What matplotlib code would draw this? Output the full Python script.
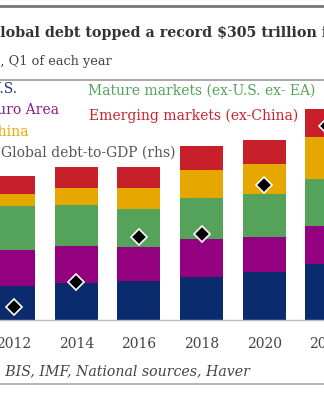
import matplotlib
matplotlib.use("Agg")
import matplotlib.pyplot as plt
from matplotlib.lines import Line2D
from matplotlib.font_manager import FontProperties
from matplotlib.textpath import TextPath

years = ["2012", "2014", "2016", "2018", "2020", "2022"]
us = [49.7, 53.1, 56.9, 61.8, 69.9, 81.1]
euro_area = [51.7, 54.4, 49.2, 55.0, 49.7, 55.0]
mature = [64.1, 58.9, 54.6, 59.4, 63.1, 68.0]
china = [16.9, 24.2, 30.8, 41.0, 43.0, 61.2]
emerging = [26.1, 30.4, 29.5, 34.7, 34.7, 39.7]
debt_to_gdp = [290.0, 298.3, 313.2, 314.3, 330.4, 350.0]

series = [us, euro_area, mature, china, emerging]
colors = ["#0a2b6e", "#930080", "#55a35a", "#e6a800", "#c8202a"]

W, H = 324, 400
fig = plt.figure(figsize=(W / 100, H / 100), dpi=100)
FAM = "DejaVu Serif"
plt.rcParams["font.family"] = [FAM]
renderer = fig.canvas.get_renderer()


def fx(px):
    return px / W


def fy(py):
    return 1 - py / H


def width_px(s, size, weight="normal", style="normal"):
    t = fig.text(0, 0, s, fontsize=size, fontweight=weight, style=style, family=FAM)
    w = t.get_window_extent(renderer).width
    t.remove()
    return w


def fit_size(s, target, weight="normal", style="normal"):
    return 10.0 * target / width_px(s, 10.0, weight, style)


def place(hidden, visible, x_left, y_base, size, **kw):
    wh = width_px(hidden, size, kw.get("fontweight", "normal"), kw.get("style", "normal")) if hidden else 0
    fig.text(fx(x_left - wh), fy(y_base), hidden + visible, fontsize=size,
             va="baseline", ha="left", **kw)


# axes geometry in px
unit = 62.6
x0 = 13.7
left_px = x0 - 0.5 * unit
width_ax = 6 * unit
top_px = 100
bottom_px = 320
ax = fig.add_axes([fx(left_px), fy(bottom_px), width_ax / W, (bottom_px - top_px) / H])
k = 210.7 / 305.0  # px per trillion
ax.set_xlim(-0.5, 5.5)
ax.set_ylim(0, (bottom_px - top_px) / k)

xs = list(range(len(years)))
bottom = [0.0] * len(years)
for vals, c in zip(series, colors):
    ax.bar(xs, vals, width=0.69, bottom=bottom, color=c, edgecolor="none", zorder=2)
    bottom = [b + v for b, v in zip(bottom, vals)]

for s in ["top", "right", "left"]:
    ax.spines[s].set_visible(False)
ax.spines["bottom"].set_color("#bbbbbb")
ax.spines["bottom"].set_linewidth(1.0)
ax.set_yticks([])
ax.set_xticks(xs)
ax.set_xticklabels(years, fontsize=10, color="#444444")
ax.tick_params(axis="x", length=0, pad=12)
ax.patch.set_alpha(0)

ax2 = ax.twinx()


def rhs_val(py):
    return 290 + (307.3 - py) * 0.331


ax2.set_ylim(rhs_val(bottom_px), rhs_val(top_px))
ax2.plot(xs, debt_to_gdp, linestyle="none", marker="D", markersize=8,
         markerfacecolor="black", markeredgecolor="white", markeredgewidth=1.2,
         zorder=5, clip_on=False)
for s in ["top", "right", "left", "bottom"]:
    ax2.spines[s].set_visible(False)
ax2.set_yticks([])

# horizontal rules
for py, col, lw in [(6, "#777777", 2.0), (79.5, "#999999", 1.2), (384, "#aaaaaa", 1.2)]:
    fig.add_artist(Line2D([0, 1], [fy(py), fy(py)], color=col, linewidth=lw,
                          transform=fig.transFigure))

# title
t_vis = "lobal debt topped a record $305 trillion"
t_size = fit_size(t_vis, 318, weight="bold")
place("G", t_vis + " in Q1", 0, 37, t_size, fontweight="bold", color="#333333")

# subtitle
s_vis = ", Q1 of each year"
s_size = fit_size(s_vis, 112)
place("$ trillion", s_vis, 0, 64.5, s_size, color="#444444")

# legend texts
l_size = fit_size("Mature markets (ex-U.S. ex- EA)", 228)
fig.text(fx(17), fy(93), "U.S.", fontsize=l_size, color="#1f3a7a", va="baseline", ha="right")
fig.text(fx(59), fy(114), "Euro Area", fontsize=l_size, color="#8b1a89", va="baseline", ha="right")
fig.text(fx(29), fy(136.5), "China", fontsize=l_size, color="#e8a800", va="baseline", ha="right")
fig.text(fx(1), fy(156.5), "Global debt-to-GDP (rhs)", fontsize=l_size, color="#555555",
         va="baseline", ha="left")
fig.text(fx(88), fy(95), "Mature markets (ex-U.S. ex- EA)", fontsize=l_size, color="#55a35a",
         va="baseline", ha="left")
fig.text(fx(89), fy(120), "Emerging markets (ex-China)", fontsize=l_size, color="#d0202a",
         va="baseline", ha="left")

# source
src_vis = "BIS, IMF, National sources, Haver"
src_size = fit_size(src_vis, 245, style="italic")
place("Source: IIF, ", src_vis, 5, 375, src_size, style="italic", color="#444444")

fig.savefig("out.png", dpi=100)
